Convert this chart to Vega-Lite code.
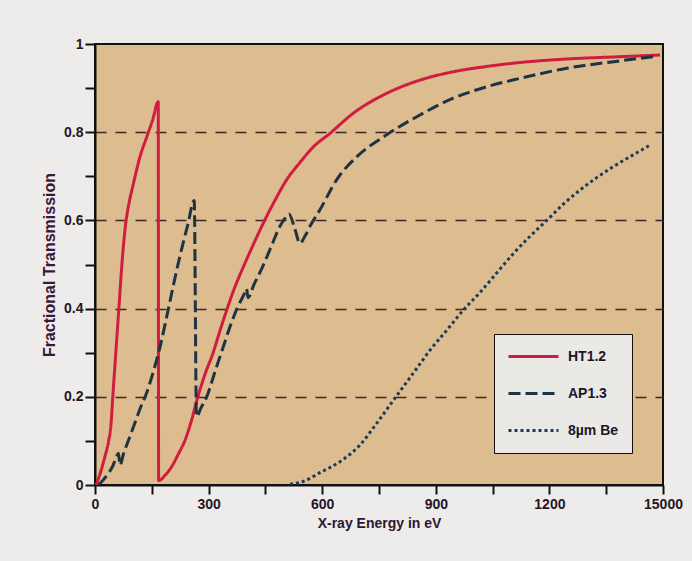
{
  "$schema": "https://vega.github.io/schema/vega-lite/v6.json",
  "width": 568,
  "height": 441,
  "autosize": {"type": "none"},
  "padding": {"left": 95, "top": 44, "right": 29, "bottom": 76},
  "background": "#edecea",
  "config": {
    "view": {"fill": "#ddbc8f", "stroke": "#111111", "strokeWidth": 2},
    "font": "Liberation Sans"
  },
  "data": {
    "values": [
      {"series": "HT1.2", "energy": 3, "transmission": 0},
      {"series": "HT1.2", "energy": 15, "transmission": 0.03},
      {"series": "HT1.2", "energy": 26, "transmission": 0.064},
      {"series": "HT1.2", "energy": 36, "transmission": 0.1},
      {"series": "HT1.2", "energy": 42, "transmission": 0.135},
      {"series": "HT1.2", "energy": 47, "transmission": 0.2},
      {"series": "HT1.2", "energy": 55, "transmission": 0.3},
      {"series": "HT1.2", "energy": 63, "transmission": 0.4},
      {"series": "HT1.2", "energy": 71, "transmission": 0.5},
      {"series": "HT1.2", "energy": 80, "transmission": 0.585},
      {"series": "HT1.2", "energy": 90, "transmission": 0.64},
      {"series": "HT1.2", "energy": 100, "transmission": 0.678},
      {"series": "HT1.2", "energy": 119, "transmission": 0.745},
      {"series": "HT1.2", "energy": 137, "transmission": 0.79},
      {"series": "HT1.2", "energy": 153, "transmission": 0.83},
      {"series": "HT1.2", "energy": 167, "transmission": 0.869},
      {"series": "HT1.2", "energy": 168, "transmission": 0.01},
      {"series": "HT1.2", "energy": 185, "transmission": 0.022},
      {"series": "HT1.2", "energy": 202, "transmission": 0.041},
      {"series": "HT1.2", "energy": 220, "transmission": 0.07},
      {"series": "HT1.2", "energy": 238, "transmission": 0.102},
      {"series": "HT1.2", "energy": 255, "transmission": 0.147},
      {"series": "HT1.2", "energy": 270, "transmission": 0.195},
      {"series": "HT1.2", "energy": 290, "transmission": 0.25},
      {"series": "HT1.2", "energy": 312, "transmission": 0.3},
      {"series": "HT1.2", "energy": 330, "transmission": 0.35},
      {"series": "HT1.2", "energy": 348, "transmission": 0.397},
      {"series": "HT1.2", "energy": 370, "transmission": 0.45},
      {"series": "HT1.2", "energy": 392, "transmission": 0.495},
      {"series": "HT1.2", "energy": 418, "transmission": 0.545},
      {"series": "HT1.2", "energy": 444, "transmission": 0.593},
      {"series": "HT1.2", "energy": 475, "transmission": 0.645},
      {"series": "HT1.2", "energy": 506, "transmission": 0.692},
      {"series": "HT1.2", "energy": 540, "transmission": 0.73},
      {"series": "HT1.2", "energy": 577, "transmission": 0.767},
      {"series": "HT1.2", "energy": 620, "transmission": 0.797},
      {"series": "HT1.2", "energy": 682, "transmission": 0.843},
      {"series": "HT1.2", "energy": 770, "transmission": 0.888},
      {"series": "HT1.2", "energy": 858, "transmission": 0.918},
      {"series": "HT1.2", "energy": 946, "transmission": 0.937},
      {"series": "HT1.2", "energy": 1034, "transmission": 0.949},
      {"series": "HT1.2", "energy": 1122, "transmission": 0.958},
      {"series": "HT1.2", "energy": 1246, "transmission": 0.966},
      {"series": "HT1.2", "energy": 1380, "transmission": 0.971},
      {"series": "HT1.2", "energy": 1492, "transmission": 0.975},
      {"series": "AP1.3", "energy": 10, "transmission": 0},
      {"series": "AP1.3", "energy": 20, "transmission": 0.01},
      {"series": "AP1.3", "energy": 35, "transmission": 0.026},
      {"series": "AP1.3", "energy": 48, "transmission": 0.045},
      {"series": "AP1.3", "energy": 57, "transmission": 0.065},
      {"series": "AP1.3", "energy": 62, "transmission": 0.072},
      {"series": "AP1.3", "energy": 66, "transmission": 0.045},
      {"series": "AP1.3", "energy": 75, "transmission": 0.07},
      {"series": "AP1.3", "energy": 90, "transmission": 0.105},
      {"series": "AP1.3", "energy": 105, "transmission": 0.14},
      {"series": "AP1.3", "energy": 120, "transmission": 0.175},
      {"series": "AP1.3", "energy": 136, "transmission": 0.208},
      {"series": "AP1.3", "energy": 155, "transmission": 0.26},
      {"series": "AP1.3", "energy": 172, "transmission": 0.314},
      {"series": "AP1.3", "energy": 189, "transmission": 0.38},
      {"series": "AP1.3", "energy": 205, "transmission": 0.445},
      {"series": "AP1.3", "energy": 224, "transmission": 0.518},
      {"series": "AP1.3", "energy": 245, "transmission": 0.59},
      {"series": "AP1.3", "energy": 262, "transmission": 0.645},
      {"series": "AP1.3", "energy": 268, "transmission": 0.155},
      {"series": "AP1.3", "energy": 280, "transmission": 0.175},
      {"series": "AP1.3", "energy": 295, "transmission": 0.2},
      {"series": "AP1.3", "energy": 318, "transmission": 0.26},
      {"series": "AP1.3", "energy": 339, "transmission": 0.314},
      {"series": "AP1.3", "energy": 357, "transmission": 0.36},
      {"series": "AP1.3", "energy": 375, "transmission": 0.4},
      {"series": "AP1.3", "energy": 395, "transmission": 0.435},
      {"series": "AP1.3", "energy": 400, "transmission": 0.445},
      {"series": "AP1.3", "energy": 404, "transmission": 0.425},
      {"series": "AP1.3", "energy": 420, "transmission": 0.455},
      {"series": "AP1.3", "energy": 440, "transmission": 0.49},
      {"series": "AP1.3", "energy": 465, "transmission": 0.54},
      {"series": "AP1.3", "energy": 488, "transmission": 0.586},
      {"series": "AP1.3", "energy": 502, "transmission": 0.605},
      {"series": "AP1.3", "energy": 512, "transmission": 0.615},
      {"series": "AP1.3", "energy": 528, "transmission": 0.58},
      {"series": "AP1.3", "energy": 541, "transmission": 0.548},
      {"series": "AP1.3", "energy": 555, "transmission": 0.565},
      {"series": "AP1.3", "energy": 570, "transmission": 0.59},
      {"series": "AP1.3", "energy": 594, "transmission": 0.624},
      {"series": "AP1.3", "energy": 638, "transmission": 0.692},
      {"series": "AP1.3", "energy": 691, "transmission": 0.744},
      {"series": "AP1.3", "energy": 770, "transmission": 0.794},
      {"series": "AP1.3", "energy": 858, "transmission": 0.839},
      {"series": "AP1.3", "energy": 946, "transmission": 0.877},
      {"series": "AP1.3", "energy": 1034, "transmission": 0.903},
      {"series": "AP1.3", "energy": 1122, "transmission": 0.922},
      {"series": "AP1.3", "energy": 1246, "transmission": 0.945},
      {"series": "AP1.3", "energy": 1370, "transmission": 0.96},
      {"series": "AP1.3", "energy": 1474, "transmission": 0.971},
      {"series": "8µm Be", "energy": 515, "transmission": 0.002},
      {"series": "8µm Be", "energy": 550, "transmission": 0.008},
      {"series": "8µm Be", "energy": 594, "transmission": 0.028},
      {"series": "8µm Be", "energy": 647, "transmission": 0.053},
      {"series": "8µm Be", "energy": 700, "transmission": 0.091},
      {"series": "8µm Be", "energy": 744, "transmission": 0.14},
      {"series": "8µm Be", "energy": 792, "transmission": 0.197},
      {"series": "8µm Be", "energy": 840, "transmission": 0.253},
      {"series": "8µm Be", "energy": 885, "transmission": 0.306},
      {"series": "8µm Be", "energy": 929, "transmission": 0.351},
      {"series": "8µm Be", "energy": 973, "transmission": 0.397},
      {"series": "8µm Be", "energy": 1017, "transmission": 0.437},
      {"series": "8µm Be", "energy": 1060, "transmission": 0.48},
      {"series": "8µm Be", "energy": 1105, "transmission": 0.525},
      {"series": "8µm Be", "energy": 1150, "transmission": 0.565},
      {"series": "8µm Be", "energy": 1193, "transmission": 0.6},
      {"series": "8µm Be", "energy": 1237, "transmission": 0.637},
      {"series": "8µm Be", "energy": 1281, "transmission": 0.669},
      {"series": "8µm Be", "energy": 1325, "transmission": 0.697},
      {"series": "8µm Be", "energy": 1369, "transmission": 0.722},
      {"series": "8µm Be", "energy": 1420, "transmission": 0.748},
      {"series": "8µm Be", "energy": 1466, "transmission": 0.771}
    ]
  },
  "mark": {"type": "line", "strokeWidth": 3, "clip": true, "interpolate": "monotone"},
  "encoding": {
    "x": {
      "field": "energy",
      "type": "quantitative",
      "scale": {"domain": [0, 1500], "nice": false, "zero": false},
      "axis": {
        "values": [0, 150, 300, 450, 600, 750, 900, 1050, 1200, 1350, 1500],
        "labelExpr": "datum.value % 300 == 0 ? (datum.value == 1500 ? '15000' : format(datum.value, 'd')) : ''",
        "labelOverlap": false,
        "labelFlush": false,
        "grid": false,
        "tickSize": 9,
        "tickWidth": 2,
        "tickColor": "#111111",
        "domainColor": "#111111",
        "domainWidth": 2,
        "labelFont": "Liberation Sans",
        "labelFontWeight": "bold",
        "labelFontSize": 14,
        "labelColor": "#241626",
        "labelPadding": 3,
        "title": "X-ray Energy in eV",
        "titleFont": "Liberation Sans",
        "titleFontWeight": "bold",
        "titleFontSize": 14,
        "titleColor": "#2e1630",
        "titlePadding": 5
      }
    },
    "y": {
      "field": "transmission",
      "type": "quantitative",
      "scale": {"domain": [0, 1], "nice": false, "zero": false},
      "axis": {
        "values": [0, 0.1, 0.2, 0.3, 0.4, 0.5, 0.6, 0.7, 0.8, 0.9, 1],
        "labelExpr": "(abs(datum.value * 5 - round(datum.value * 5)) < 0.01) ? (datum.value == 0 ? '0' : datum.value == 1 ? '1' : format(datum.value, '.1f')) : ''",
        "labelOverlap": false,
        "labelFlush": false,
        "grid": true,
        "gridDash": [11, 9],
        "gridColor": "#3e2628",
        "gridWidth": 1.4,
        "gridOpacity": {
          "condition": {
            "test": "datum.value > 0.05 && datum.value < 0.95 && abs(datum.value * 5 - round(datum.value * 5)) < 0.01",
            "value": 1
          },
          "value": 0
        },
        "tickSize": 10,
        "tickWidth": 2,
        "tickColor": "#111111",
        "domainColor": "#111111",
        "domainWidth": 2,
        "labelFont": "Liberation Sans",
        "labelFontWeight": "bold",
        "labelFontSize": 14,
        "labelColor": "#241626",
        "labelPadding": 2,
        "title": "Fractional Transmission",
        "titleFont": "Liberation Sans",
        "titleFontWeight": "bold",
        "titleFontSize": 16,
        "titleColor": "#3a1838",
        "titlePadding": 6
      }
    },
    "color": {
      "field": "series",
      "type": "nominal",
      "scale": {"domain": ["HT1.2", "AP1.3", "8µm Be"], "range": ["#cf1d40", "#1e3442", "#1d3a58"]},
      "legend": {
        "orient": "none",
        "legendX": 399,
        "legendY": 290,
        "title": null,
        "fillColor": "#ebe9e6",
        "strokeColor": "#111111",
        "padding": 13,
        "symbolType": "stroke",
        "symbolSize": 2500,
        "symbolStrokeWidth": 3,
        "clipHeight": 19,
        "rowPadding": 18,
        "labelFont": "Liberation Sans",
        "labelFontWeight": "bold",
        "labelFontSize": 14,
        "labelColor": "#1c1628",
        "labelOffset": 8
      }
    },
    "strokeDash": {
      "field": "series",
      "type": "nominal",
      "scale": {"domain": ["HT1.2", "AP1.3", "8µm Be"], "range": [[1, 0], [12, 5], [3, 3]]},
      "legend": {
        "orient": "none",
        "legendX": 399,
        "legendY": 290,
        "title": null,
        "fillColor": "#ebe9e6",
        "strokeColor": "#111111",
        "padding": 13,
        "symbolType": "stroke",
        "symbolSize": 2500,
        "symbolStrokeWidth": 3,
        "clipHeight": 19,
        "rowPadding": 18,
        "labelFont": "Liberation Sans",
        "labelFontWeight": "bold",
        "labelFontSize": 14,
        "labelColor": "#1c1628",
        "labelOffset": 8
      }
    }
  }
}
